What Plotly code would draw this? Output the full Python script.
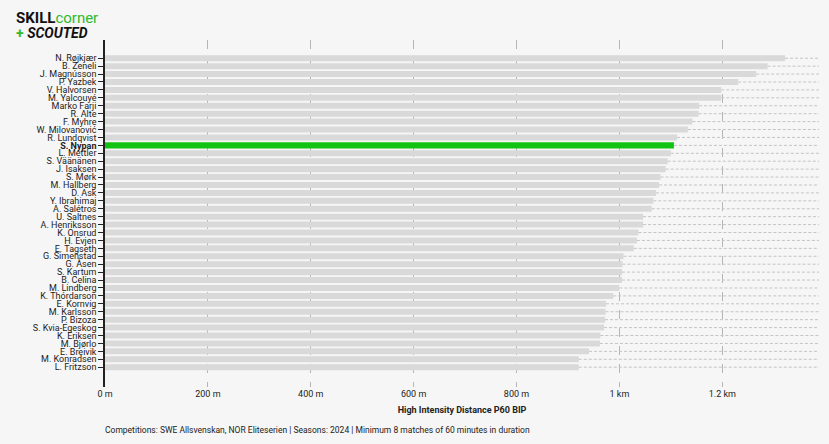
import plotly.graph_objects as go

players = ["N. Røjkjær", "B. Zeneli", "J. Magnússon", "P. Yazbek", "V. Halvorsen", "M. Yalcouyé",
           "Marko Farji", "R. Alte", "F. Myhre", "W. Milovanović", "R. Lundqvist", "S. Nypan",
           "L. Mettler", "S. Väänänen", "J. Isaksen", "S. Mørk", "M. Hallberg", "D. Ask",
           "Y. Ibrahimaj", "A. Salétros", "U. Saltnes", "A. Henriksson", "K. Onsrud", "H. Evjen",
           "E. Tagseth", "G. Simenstad", "G. Åsen", "S. Kartum", "B. Celina", "M. Lindberg",
           "K. Thórdarson", "E. Kornvig", "M. Karlsson", "P. Bizoza", "S. Kvia-Egeskog",
           "K. Eriksen", "M. Bjørlo", "E. Breivik", "M. Konradsen", "L. Fritzson"]
values = [1322, 1288, 1266, 1231, 1198, 1198, 1155, 1154, 1142, 1133, 1112, 1106,
          1100, 1094, 1090, 1080, 1077, 1071, 1066, 1063, 1046, 1046, 1037, 1034,
          1028, 1008, 1006, 1005, 1005, 1000, 988, 974, 973, 972, 970,
          963, 962, 941, 921, 921]
highlight = "S. Nypan"
tick_vals = [0, 200, 400, 600, 800, 1000, 1200]
tick_text = ["0 m", "200 m", "400 m", "600 m", "800 m", "1 km", "1.2 km"]
x_max = 1388

colors = ["#12c312" if p == highlight else "#d9d9d9" for p in players]
ticklabels = [f"<b>{p}</b>" if p == highlight else p for p in players]

fig = go.Figure()

# dashed guide lines from bar end to right edge
gx, gy = [], []
for p, v in zip(players, values):
    gx += [v, x_max, None]
    gy += [p, p, None]
fig.add_trace(go.Scatter(x=gx, y=gy, mode="lines",
                         line=dict(color="#c4c4c4", width=1, dash="3px,2px"),
                         hoverinfo="skip", showlegend=False))

fig.add_trace(go.Bar(x=values, y=players, orientation="h",
                     marker=dict(color=colors, line=dict(width=0)),
                     width=0.76, showlegend=False))

fig.update_layout(
    width=829, height=444,
    margin=dict(l=105, r=10, t=40, b=57, autoexpand=False),
    paper_bgcolor="#f6f6f6", plot_bgcolor="#f6f6f6",
    font=dict(family="Roboto", color="#222222", size=9),
    xaxis=dict(range=[0, x_max], tickvals=tick_vals, ticktext=tick_text,
               showgrid=True, gridcolor="#b5b5b5", griddash="dash", gridwidth=1,
               zeroline=False, showline=False, ticks="", automargin=False,
               tickfont=dict(size=9, color="#222222"),
               title=dict(text="<b>High Intensity Distance P60 BIP</b>",
                          font=dict(size=9, color="#222222"), standoff=8)),
    yaxis=dict(categoryorder="array", categoryarray=players, type="category",
               tickvals=players, ticktext=ticklabels, automargin=False,
               range=[41.5, -2.3], showgrid=False, zeroline=False,
               showline=True, linecolor="#222222", linewidth=1.5,
               ticks="outside", ticklen=5, tickcolor="#222222", tickwidth=1.2,
               tickfont=dict(size=9, color="#222222")),
    bargap=0.2,
)

fig.add_annotation(xref="paper", yref="paper", x=-0.003, y=-0.124, xanchor="left", yanchor="middle",
                   text="Competitions: SWE Allsvenskan, NOR Eliteserien | Seasons: 2024 | Minimum 8 matches of 60 minutes in duration",
                   showarrow=False, font=dict(size=8.5, color="#222222"))

fig.add_annotation(xref="paper", yref="paper", x=-0.1274, y=1.063, xanchor="left", yanchor="middle",
                   text="<b>SKILL</b><span style='color:#2fb92f'>corner</span>",
                   showarrow=False, font=dict(size=15, color="#111111", family="Roboto"))
fig.add_annotation(xref="paper", yref="paper", x=-0.1274, y=1.020, xanchor="left", yanchor="middle",
                   text="<b><span style='color:#2fb92f'>+</span> <i>SCOUTED</i></b>",
                   showarrow=False, font=dict(size=14, color="#111111", family="Roboto"))

fig.write_html("out.html", config={"displayModeBar": False},
               post_script="document.body.style.margin='0';")
